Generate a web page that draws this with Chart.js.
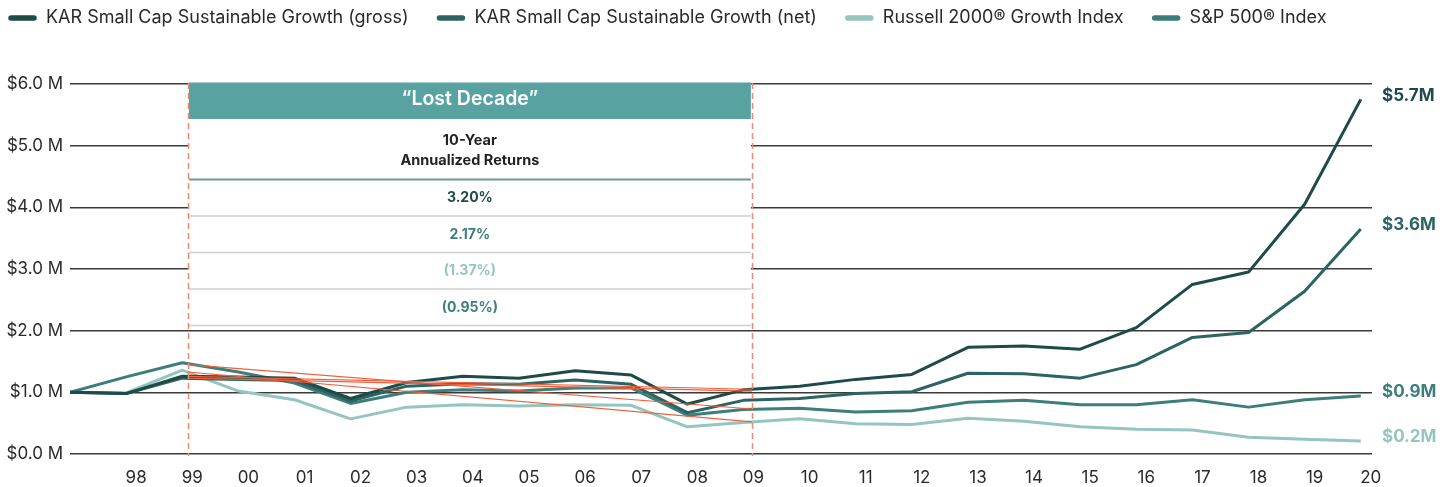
<!DOCTYPE html>
<html><head><meta charset="utf-8">
<script src="https://cdn.jsdelivr.net/npm/chart.js@4.4.1/dist/chart.umd.min.js"></script>
<style>html,body{margin:0;padding:0;background:#fff;}#wrap{width:1450px;height:487px;position:relative;}</style>
</head><body><div id="wrap"><canvas id="c" width="1450" height="487"></canvas></div>
<script>
// ---- data ----
const years = [1997,1998,1999,2000,2001,2002,2003,2004,2005,2006,2007,2008,2009,2010,2011,2012,2013,2014,2015,2016,2017,2018,2019,2020];
const tickYears = [1998,1999,2000,2001,2002,2003,2004,2005,2006,2007,2008,2009,2010,2011,2012,2013,2014,2015,2016,2017,2018,2019,2020];
const grossValues   = [1.00,0.98,1.26,1.25,1.23,0.90,1.16,1.26,1.23,1.35,1.28,0.81,1.04,1.10,1.21,1.29,1.73,1.75,1.70,2.05,2.75,2.95,4.05,5.75];
const netValues     = [1.00,0.98,1.23,1.21,1.19,0.86,1.10,1.14,1.13,1.20,1.13,0.67,0.87,0.90,0.98,1.01,1.31,1.30,1.23,1.45,1.89,1.97,2.64,3.65];
const russellValues = [1.00,0.99,1.36,1.02,0.88,0.57,0.76,0.80,0.78,0.80,0.79,0.44,0.51,0.57,0.49,0.48,0.58,0.53,0.44,0.40,0.39,0.27,0.24,0.21];
const spValues      = [1.00,1.25,1.48,1.33,1.15,0.82,1.00,1.04,1.02,1.07,1.07,0.63,0.72,0.74,0.68,0.70,0.84,0.87,0.80,0.80,0.88,0.76,0.88,0.94];
const seriesLabels = ['KAR Small Cap Sustainable Growth (gross)','KAR Small Cap Sustainable Growth (net)','Russell 2000® Growth Index','S&P 500® Index'];
const seriesColors = ['#1e4a48','#2b6461','#94c5bf','#3d7e7b'];
const endLabels = ['$5.7M','$3.6M','$0.2M','$0.9M'];
const yTicks = [0,1,2,3,4,5,6];
const decadeStart = 1999.1, decadeEnd = 2009.15;
const trendStartValues = [1.26,1.23,1.33,1.45];
const trendEndValues   = [1.05,1.02,0.52,0.73];
const decadeTitle = '\u201CLost Decade\u201D';
const decadeSubtitle = ['10-Year','Annualized Returns'];
const decadeReturns = ['3.20%','2.17%','(1.37%)','(0.95%)'];
const returnColors = ['#1e4a48','#3d7e7b','#94c5bf','#3d7e7b'];
// ---- end data ----

const FONT = 'Inter, Roboto, "Noto Sans", sans-serif';
const allValues = [grossValues, netValues, russellValues, spValues];
const seriesOrder = [1,2,4,3];

const datasets = allValues.map((vals,i)=>({
  label: seriesLabels[i],
  data: years.map((x,j)=>({x, y: vals[j]})),
  borderColor: seriesColors[i],
  backgroundColor: seriesColors[i],
  borderWidth: 3,
  pointRadius: 0,
  tension: 0,
  order: seriesOrder[i],
  borderJoinStyle: 'round',
  isSeries: true
}));
trendStartValues.forEach((s,i)=>{
  datasets.push({
    label: 'trend'+i,
    data: [{x: decadeStart, y: s},{x: decadeEnd, y: trendEndValues[i]}],
    borderColor: '#ef5f3c',
    borderWidth: 1.2,
    pointRadius: 0,
    order: 0,
    isSeries: false
  });
});

const decadeBox = {
  id: 'decadeBox',
  beforeDatasetsDraw(chart){
    const {ctx, chartArea, scales:{x}} = chart;
    const x0 = x.getPixelForValue(decadeStart), x1 = x.getPixelForValue(decadeEnd);
    const top = chartArea.top - 1.5;
    ctx.save();
    ctx.fillStyle = '#ffffff';
    ctx.fillRect(x0+1, top-1, x1-x0-2, 243);
    ctx.fillStyle = '#58a3a2';
    ctx.fillRect(x0+1, top, x1-x0-2, 36.5);
    const cx = (x0+x1)/2;
    ctx.textAlign = 'center';
    ctx.textBaseline = 'middle';
    ctx.fillStyle = '#ffffff';
    ctx.font = '600 19.5px ' + FONT;
    ctx.fillText(decadeTitle, cx, top + 17);
    ctx.fillStyle = '#222222';
    ctx.font = 'bold 14.5px ' + FONT;
    ctx.fillText(decadeSubtitle[0], cx, top + 58.5);
    ctx.fillText(decadeSubtitle[1], cx, top + 78.5);
    ctx.strokeStyle = '#6f9796';
    ctx.lineWidth = 2;
    ctx.beginPath(); ctx.moveTo(x0+1, top+97); ctx.lineTo(x1-1, top+97); ctx.stroke();
    ctx.strokeStyle = '#cfcfcf';
    ctx.lineWidth = 1.5;
    for (let r=1;r<=4;r++){
      const yy = top + 97 + r*36.5;
      ctx.beginPath(); ctx.moveTo(x0+1, yy); ctx.lineTo(x1-1, yy); ctx.stroke();
    }
    ctx.font = 'bold 14px ' + FONT;
    decadeReturns.forEach((t,r)=>{
      ctx.fillStyle = returnColors[r];
      ctx.fillText(t, cx, top + 97 + r*36.5 + 18.5);
    });
    ctx.restore();
  },
  afterDatasetsDraw(chart){
    const {ctx, chartArea, scales:{x}} = chart;
    ctx.save();
    ctx.strokeStyle = '#f0896f';
    ctx.lineWidth = 1.5;
    ctx.setLineDash([6,4]);
    [decadeStart, decadeEnd].forEach(v=>{
      const px = Math.round(x.getPixelForValue(v))+0.5;
      ctx.beginPath(); ctx.moveTo(px, chartArea.top-1); ctx.lineTo(px, chartArea.bottom+2); ctx.stroke();
    });
    ctx.restore();
    ctx.save();
    ctx.font = 'bold 17px ' + FONT;
    ctx.textAlign = 'left';
    ctx.textBaseline = 'middle';
    chart.data.datasets.forEach((ds,i)=>{
      if (!ds.isSeries) return;
      const meta = chart.getDatasetMeta(i);
      const last = meta.data[meta.data.length-1];
      ctx.fillStyle = seriesColors[i];
      ctx.fillText(endLabels[i], chartArea.right + 10, last.y - 4);
    });
    ctx.restore();
  }
};

const customLegend = {
  id: 'customLegend',
  afterDraw(chart){
    const {ctx} = chart;
    ctx.save();
    ctx.font = '18px ' + FONT;
    ctx.textBaseline = 'middle';
    ctx.textAlign = 'left';
    let x = 8; const y = 18;
    seriesLabels.forEach((lab,i)=>{
      ctx.strokeStyle = seriesColors[i];
      ctx.lineWidth = 5.5;
      ctx.lineCap = 'round';
      ctx.beginPath(); ctx.moveTo(x+3, y); ctx.lineTo(x+26, y); ctx.stroke();
      ctx.fillStyle = '#2a2a2a';
      ctx.fillText(lab, x+38, y);
      x += 38 + ctx.measureText(lab).width + 28;
    });
    ctx.restore();
  }
};

new Chart(document.getElementById('c'), {
  type: 'line',
  data: { datasets },
  options: {
    responsive: false,
    animation: false,
    events: [],
    layout: { padding: { top: 84, right: 78, left: 0, bottom: 0 } },
    plugins: { legend: { display: false }, tooltip: { enabled: false } },
    scales: {
      x: {
        type: 'linear', min: 1997, max: 2020.2,
        afterBuildTicks: s => { s.ticks = tickYears.map(v=>({value:v})); },
        afterFit: s => { s.height = 33; },
        grid: { display: false }, border: { display: false },
        ticks: { callback: v => String(v).slice(2), labelOffset: 10, maxRotation: 0, autoSkip: false,
                 padding: 6, color: '#2a2a2a', font: { family: FONT, size: 17 } }
      },
      y: {
        min: 0, max: 6,
        afterBuildTicks: s => { s.ticks = yTicks.map(v=>({value:v})); },
        afterFit: s => { s.width = 70; },
        grid: { color: '#3a3a3a', lineWidth: 1.5, drawTicks: false },
        border: { display: false },
        ticks: { callback: v => '$' + Number(v).toFixed(1) + ' M', padding: 7, color: '#2a2a2a',
                 font: { family: FONT, size: 17 } }
      }
    }
  },
  plugins: [decadeBox, customLegend]
});
</script></body></html>
